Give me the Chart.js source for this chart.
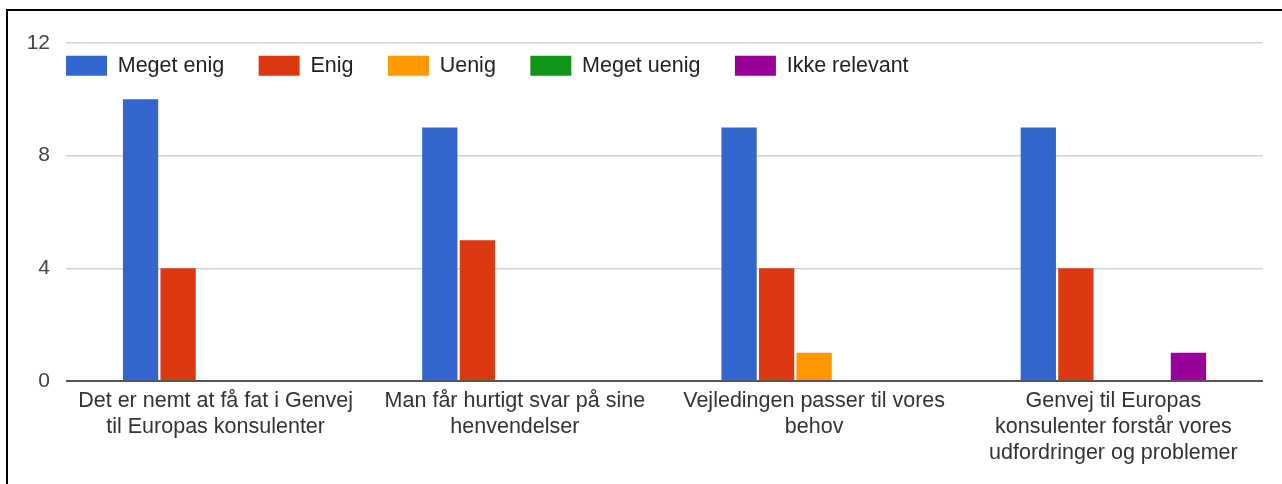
<!DOCTYPE html>
<html>
<head>
<meta charset="utf-8">
<script src="https://cdn.jsdelivr.net/npm/chart.js@4/dist/chart.umd.min.js"></script>
<style>
  html, body { margin: 0; padding: 0; background: #fff; }
  #wrap { position: relative; width: 1282px; height: 484px; }
  #frame { position: absolute; left: 6px; top: 9px; right: 0; bottom: 0;
           border-top: 2px solid #000; border-left: 2px solid #000; }
  #chart { position: absolute; left: 0; top: 0; }
</style>
</head>
<body>
<div id="wrap">
  <div id="frame"></div>
  <canvas id="chart" width="1282" height="484"></canvas>
</div>
<script>
const categories = [
  ['Det er nemt at få fat i Genvej', 'til Europas konsulenter'],
  ['Man får hurtigt svar på sine', 'henvendelser'],
  ['Vejledingen passer til vores', 'behov'],
  ['Genvej til Europas', 'konsulenter forstår vores', 'udfordringer og problemer']
];
const meget_enig = [10, 9, 9, 9];
const enig = [4, 5, 4, 4];
const uenig = [0, 0, 1, 0];
const meget_uenig = [0, 0, 0, 0];
const ikke_relevant = [0, 0, 0, 1];
const y_ticks = [0, 4, 8, 12];

const font = 'Liberation Sans, Arial, sans-serif';
const legendGap = 34.5;

// top legend, but it takes no room and is drawn inside the plot area
const legendInside = {
  id: 'legendInside',
  beforeLayout(chart) {
    const lg = chart.legend;
    if (lg && !lg._patched) {
      const fit = lg.fit;
      lg.fit = function() { fit.call(this); this.height = 0; };
      lg._patched = true;
    }
  },
  afterLayout(chart) {
    const lg = chart.legend;
    const a = chart.chartArea;
    lg.left = a.left - legendGap;
    lg.right = chart.width;
    lg.top = a.top - legendGap + 12;
    lg.bottom = lg.top + 90;
    lg.width = lg.right - lg.left;
    lg.height = 90;
  }
};

const ctx = document.getElementById('chart');

new Chart(ctx, {
  type: 'bar',
  data: {
    labels: categories,
    datasets: [
      { label: 'Meget enig', data: meget_enig, backgroundColor: '#3366cc' },
      { label: 'Enig', data: enig, backgroundColor: '#dc3912' },
      { label: 'Uenig', data: uenig, backgroundColor: '#ff9900' },
      { label: 'Meget uenig', data: meget_uenig, backgroundColor: '#109618' },
      { label: 'Ikke relevant', data: ikke_relevant, backgroundColor: '#990099' }
    ]
  },
  plugins: [legendInside],
  options: {
    responsive: false,
    animation: false,
    categoryPercentage: 0.627,
    barPercentage: 0.94,
    layout: { padding: { top: 43, right: 19, bottom: 0, left: 0 } },
    plugins: {
      legend: {
        position: 'top',
        align: 'start',
        labels: {
          boxWidth: 41,
          boxHeight: 20,
          padding: legendGap,
          color: '#222',
          font: { family: font, size: 21.5 }
        }
      },
      tooltip: { enabled: false }
    },
    scales: {
      x: {
        grid: { display: false },
        border: { display: false },
        ticks: {
          color: '#333',
          maxRotation: 0,
          autoSkip: false,
          padding: -1,
          font: { family: font, size: 21.5, lineHeight: 1.21 }
        },
        afterFit(scale) { scale.height = 103; }
      },
      y: {
        min: 0,
        max: 12,
        afterBuildTicks(scale) { scale.ticks = y_ticks.map(v => ({ value: v })); },
        grid: {
          drawTicks: false,
          color: c => c.tick.value === 0 ? '#555' : '#d4d4d4',
          lineWidth: c => c.tick.value === 0 ? 2 : 1.5
        },
        border: { display: false },
        ticks: {
          color: '#444',
          padding: 16,
          font: { family: font, size: 21 }
        },
        afterFit(scale) { scale.width = 66; }
      }
    }
  }
});
</script>
</body>
</html>
